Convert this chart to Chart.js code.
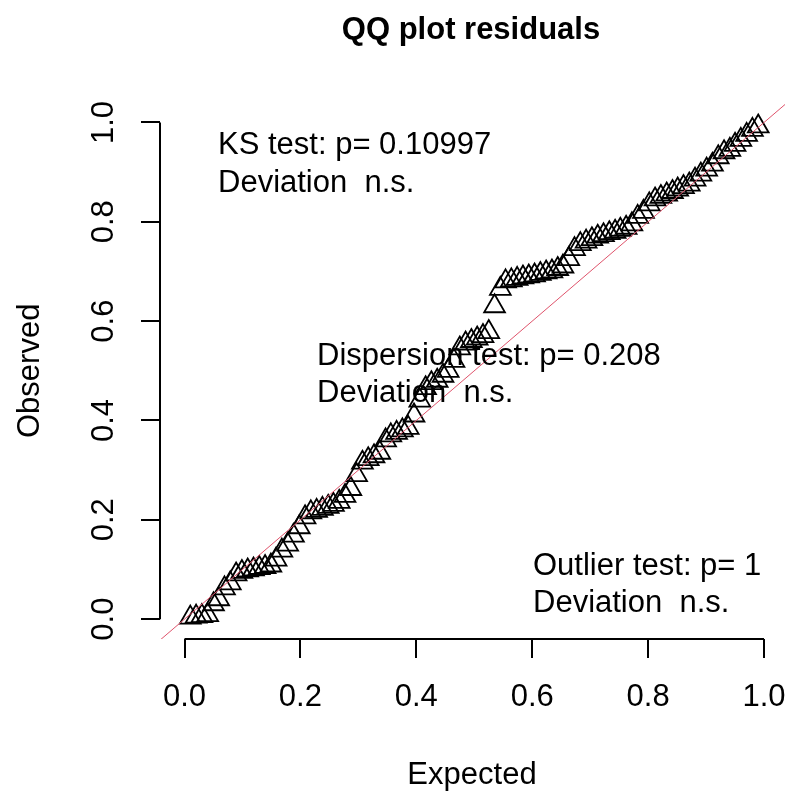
<!DOCTYPE html>
<html>
<head>
<meta charset="utf-8">
<title>QQ plot residuals</title>
<script src="https://cdn.jsdelivr.net/npm/chart.js@4.4.1/dist/chart.umd.min.js"></script>
<style>
  body { margin: 0; background: #fff; }
  canvas { display: block; }
</style>
</head>
<body>
<canvas id="qq" width="785" height="794"></canvas>
<script>
// expected uniform quantiles i/(n+1), n = 100
const expected = [
  0.010,0.020,0.030,0.040,0.050,0.059,0.069,0.079,0.089,0.099,
  0.109,0.119,0.129,0.139,0.149,0.158,0.168,0.178,0.188,0.198,
  0.208,0.218,0.228,0.238,0.248,0.257,0.267,0.277,0.287,0.297,
  0.307,0.317,0.327,0.337,0.347,0.356,0.366,0.376,0.386,0.396,
  0.406,0.416,0.426,0.436,0.446,0.455,0.465,0.475,0.485,0.495,
  0.505,0.515,0.525,0.535,0.545,0.554,0.564,0.574,0.584,0.594,
  0.604,0.614,0.624,0.634,0.644,0.653,0.663,0.673,0.683,0.693,
  0.703,0.713,0.723,0.733,0.743,0.752,0.762,0.772,0.782,0.792,
  0.802,0.812,0.822,0.832,0.842,0.851,0.861,0.871,0.881,0.891,
  0.901,0.911,0.921,0.931,0.941,0.950,0.960,0.970,0.980,0.990
];
// sorted scaled residuals
const observed = [
  0.003,0.005,0.006,0.008,
  0.030,0.040,0.062,0.072,
  0.090,0.095,0.098,0.100,0.103,0.105,0.108,
  0.120,0.138,0.150,0.168,0.185,
  0.205,0.215,0.218,0.222,0.226,0.230,0.236,
  0.248,0.262,0.290,0.315,0.322,0.328,0.335,
  0.360,0.370,0.375,0.380,0.385,
  0.410,0.440,0.465,0.475,0.480,0.490,0.500,
  0.520,0.545,0.555,0.560,0.565,0.570,0.578,
  0.630,0.665,0.680,0.682,0.685,0.688,0.690,0.692,0.695,0.698,0.700,0.705,0.710,
  0.725,0.745,0.755,0.760,0.765,0.770,0.773,0.777,0.780,0.784,0.788,0.795,
  0.810,0.820,0.835,0.845,0.850,0.855,0.860,0.865,0.870,0.875,
  0.885,0.895,0.905,0.915,0.930,0.940,0.945,0.955,0.965,0.975,0.985,0.992
];
const lineaRef = [-0.2, 1.2];   // abline(0,1)
const xTicks = [0, 0.2, 0.4, 0.6, 0.8, 1.0];
const xTickLabels = ["0.0", "0.2", "0.4", "0.6", "0.8", "1.0"];
const yTicks = [0, 0.2, 0.4, 0.6, 0.8, 1.0];
const yTickLabels = ["0.0", "0.2", "0.4", "0.6", "0.8", "1.0"];
const titulo = "QQ plot residuals";
const xTitulo = "Expected";
const yTitulo = "Observed";
const ksTexto = ["KS test: p= 0.10997", "Deviation  n.s."];
const dispTexto = ["Dispersion test: p= 0.208", "Deviation  n.s."];
const outTexto = ["Outlier test: p= 1", "Deviation  n.s."];

const fuente = '"Liberation Sans", Arial, sans-serif';

var puntos = new Array();
for (let i = 0; i < expected.length; i++) {
  puntos[i] = { x: expected[i], y: observed[i] };
}

const ejesR = {
  id: 'ejesR',
  afterDraw(chart) {
    const ctx = chart.ctx;
    const xs = chart.scales.x;
    const ys = chart.scales.y;
    const area = chart.chartArea;
    ctx.save();
    ctx.strokeStyle = '#000';
    ctx.fillStyle = '#000';
    ctx.lineWidth = 2;

    // x axis, only between first and last tick
    const yEje = Math.round(area.bottom);
    ctx.beginPath();
    ctx.moveTo(xs.getPixelForValue(xTicks[0]), yEje);
    ctx.lineTo(xs.getPixelForValue(xTicks[xTicks.length - 1]), yEje);
    for (let t of xTicks) {
      const px = Math.round(xs.getPixelForValue(t));
      ctx.moveTo(px, yEje);
      ctx.lineTo(px, yEje + 19);
    }
    ctx.stroke();

    // y axis
    const xEje = Math.round(area.left);
    ctx.beginPath();
    ctx.moveTo(xEje, ys.getPixelForValue(yTicks[0]));
    ctx.lineTo(xEje, ys.getPixelForValue(yTicks[yTicks.length - 1]));
    for (let t of yTicks) {
      const py = Math.round(ys.getPixelForValue(t));
      ctx.moveTo(xEje, py);
      ctx.lineTo(xEje - 19, py);
    }
    ctx.stroke();

    ctx.font = '31px ' + fuente;
    ctx.textAlign = 'center';
    ctx.textBaseline = 'middle';
    for (let k = 0; k < xTicks.length; k++) {
      ctx.fillText(xTickLabels[k], xs.getPixelForValue(xTicks[k]), 697);
    }
    for (let k = 0; k < yTicks.length; k++) {
      ctx.save();
      ctx.translate(104, ys.getPixelForValue(yTicks[k]));
      ctx.rotate(-Math.PI / 2);
      ctx.fillText(yTickLabels[k], 0, 0);
      ctx.restore();
    }

    // axis titles
    ctx.fillText(xTitulo, 472, 775);
    ctx.save();
    ctx.translate(30, (area.top + area.bottom) / 2);
    ctx.rotate(-Math.PI / 2);
    ctx.fillText(yTitulo, 0, 0);
    ctx.restore();

    // main title
    ctx.font = 'bold 31px ' + fuente;
    ctx.fillText(titulo, 471, 30);

    // test legends (bty = "n")
    ctx.font = '31px ' + fuente;
    ctx.textAlign = 'left';
    ctx.fillText(ksTexto[0], 218, 145);
    ctx.fillText(ksTexto[1], 218, 183);
    ctx.fillText(dispTexto[0], 317, 356);
    ctx.fillText(dispTexto[1], 317, 393);
    ctx.fillText(outTexto[0], 533, 566);
    ctx.fillText(outTexto[1], 533, 603);
    ctx.restore();
  }
};

new Chart(document.getElementById('qq'), {
  type: 'scatter',
  data: {
    datasets: [{
      type: 'line',
      label: 'abline',
      data: [{ x: lineaRef[0], y: lineaRef[0] }, { x: lineaRef[1], y: lineaRef[1] }],
      borderColor: '#DF536B',
      borderWidth: 1,
      pointRadius: 0,
      fill: false
    }, {
      label: 'residuals',
      data: puntos,
      pointStyle: 'triangle',
      pointRadius: 12,
      pointBorderWidth: 1.8,
      pointBorderColor: '#000',
      pointBackgroundColor: 'rgba(0,0,0,0)'
    }]
  },
  options: {
    responsive: false,
    animation: false,
    layout: { autoPadding: false, padding: { left: 160, right: 0, top: 102.6, bottom: 155 } },
    plugins: { legend: { display: false }, tooltip: { enabled: false }, title: { display: false } },
    scales: {
      x: { type: 'linear', display: false, min: -0.0423, max: 1.0362 },
      y: { type: 'linear', display: false, min: -0.04, max: 1.04 }
    }
  },
  plugins: [ejesR]
});
</script>
</body>
</html>
